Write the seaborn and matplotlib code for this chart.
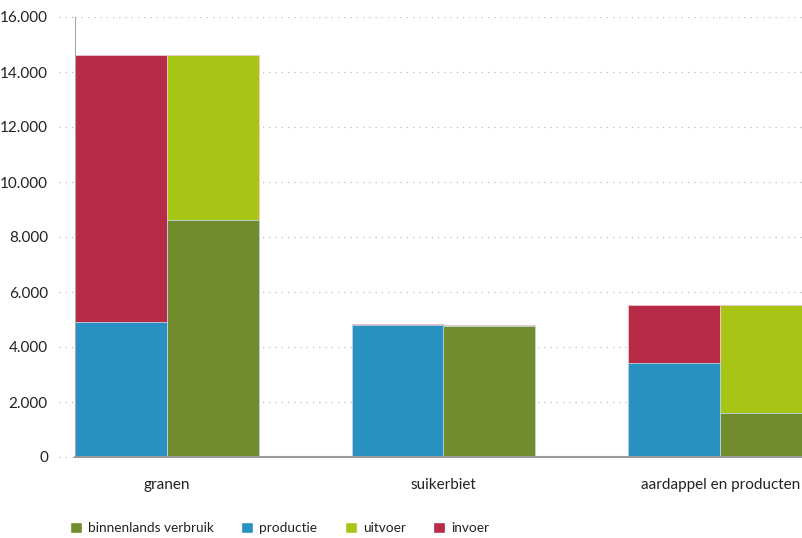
import matplotlib
matplotlib.use("Agg")
import matplotlib.pyplot as plt
import matplotlib.transforms as mtransforms
import seaborn as sns
import pandas as pd
from matplotlib.patches import Patch
from matplotlib.ticker import FuncFormatter

# ---- data ----
categories = ["granen", "suikerbiet", "aardappel en producten"]
productie = [4900, 4800, 3420]
invoer = [9710, 30, 2100]
binnenlands_verbruik = [8620, 4760, 1590]
uitvoer = [5990, 40, 3930]
series_labels = ["binnenlands verbruik", "productie", "uitvoer", "invoer"]
yticks = [0, 2000, 4000, 6000, 8000, 10000, 12000, 14000, 16000]

c_verbruik = "#718b2d"
c_productie = "#2990c2"
c_uitvoer = "#a8c414"
c_invoer = "#b82b47"

sns.set_theme(style="white")
plt.rcParams["font.family"] = ["Lato", "DejaVu Sans"]

fig = plt.figure(figsize=(8.03, 5.38), dpi=100)
ax = fig.add_axes([75 / 803, 81 / 538, 737 / 803, 440 / 538])

sides = ["aanbod", "gebruik"]
top_df = pd.DataFrame({
    "cat": categories * 2,
    "side": [sides[0]] * 3 + [sides[1]] * 3,
    "value": [p + i for p, i in zip(productie, invoer)]
             + [v + u for v, u in zip(binnenlands_verbruik, uitvoer)],
})
base_df = pd.DataFrame({
    "cat": categories * 2,
    "side": [sides[0]] * 3 + [sides[1]] * 3,
    "value": productie + binnenlands_verbruik,
})

common = dict(x="cat", y="value", hue="side", hue_order=sides, order=categories,
              dodge=True, width=0.664, gap=0, errorbar=None, saturation=1,
              legend=False, ax=ax, linewidth=0.6)
sns.barplot(data=top_df, palette={"aanbod": c_invoer, "gebruik": c_uitvoer},
            edgecolor="#f0c8d0", **common)
sns.barplot(data=base_df, palette={"aanbod": c_productie, "gebruik": c_verbruik},
            edgecolor="#b8d8e8", **common)

ax.set_xlim(-0.332, 2.332)
ax.set_ylim(0, 16000)
ax.set_yticks(yticks)
ax.yaxis.set_major_formatter(FuncFormatter(lambda v, p: f"{int(v):,}".replace(",", ".")))
ax.set_xlabel("")
ax.set_ylabel("")

ax.yaxis.grid(True, linestyle=(0, (1, 4)), color="#bdbdbd", linewidth=0.9)
ax.set_axisbelow(True)
trans = mtransforms.blended_transform_factory(ax.transAxes, ax.transData)
for y in yticks:
    ax.plot([-16 / 737, 0], [y, y], transform=trans, linestyle=(0, (1, 4)),
            color="#bdbdbd", linewidth=0.9, clip_on=False, zorder=0)

for s in ["top", "right"]:
    ax.spines[s].set_visible(False)
ax.spines["left"].set_color("#a8a8a8")
ax.spines["left"].set_linewidth(0.8)
ax.spines["bottom"].set_color("#9a9a9a")
ax.spines["bottom"].set_linewidth(1.5)

ax.tick_params(axis="y", length=0, pad=19.5, labelsize=11, labelcolor="#222222")
ax.tick_params(axis="x", length=0, pad=15, labelsize=11, labelcolor="#222222")

handles = [Patch(facecolor=c) for c in [c_verbruik, c_productie, c_uitvoer, c_invoer]]
fig.legend(handles, series_labels, loc="center left", bbox_to_anchor=(70 / 803, 1 - 528 / 538),
           ncol=4, frameon=False, handlelength=0.88, handleheight=0.88,
           handletextpad=0.45, columnspacing=2.0, fontsize=9.8,
           borderpad=0, borderaxespad=0, labelcolor="#222222")

fig.savefig("out.png", dpi=100)
